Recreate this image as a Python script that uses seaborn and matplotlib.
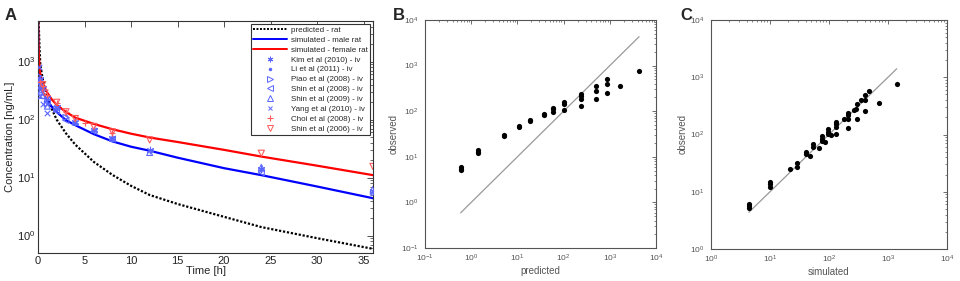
import numpy as np
import pandas as pd
import matplotlib
matplotlib.use("Agg")
import matplotlib.pyplot as plt
import seaborn as sns
from matplotlib.lines import Line2D
from matplotlib.ticker import LogLocator, NullFormatter

# ---------------- data: panel A curves ----------------
t_curve = [0, 0.05, 0.083, 0.167, 0.25, 0.5, 1, 1.5, 2, 3, 4, 6, 8, 10, 12, 15, 20, 24, 30, 36]
pred_rat = [9000, 6000, 4300, 1675, 865, 509, 238, 150, 100, 58, 37, 18.6, 11.1, 7.2, 5.0, 3.5, 2.1, 1.4, 0.9, 0.59]
sim_male = [6000, 1600, 1000, 600, 430, 300, 210, 165, 135, 98, 80, 56, 42, 34, 29, 22, 14.5, 11, 7, 4.4]
sim_female = [7000, 2200, 1400, 800, 600, 420, 290, 220, 180, 135, 108, 84, 68, 57, 49, 41, 30, 23, 16, 11]

# ---------------- data: panel A observations ----------------
kim_t = [0.083, 0.25, 0.5, 1, 2, 4, 6, 8, 12, 24, 36]
kim_c = [480, 505, 354, 237, 163, 89, 65.6, 48.4, 29.7, 13.9, 5.9]
li_t = [0.167, 0.5, 1, 2, 3, 4, 6, 8, 12, 24, 36]
li_c = [354, 275, 214, 147, 120, 83, 61, 44, 28, 13, 5.5]
piao_t = [0.083, 0.25, 0.5, 1, 2, 3]
piao_c = [560, 399, 320, 187, 150, 109]
shin08_t = [0.083, 0.25, 1, 2, 3, 6, 8, 24, 36]
shin08_c = [430, 350, 200, 140, 97, 63, 46, 12.1, 5.2]
shin09_t = [0.083, 0.25, 0.5, 1, 4, 8, 12, 24, 36]
shin09_c = [380, 300, 260, 170, 90, 47, 27, 15, 6.3]
yang_t = [0.083, 0.25, 0.5, 1]
yang_c = [795, 257, 184, 131]
choi_t = [0.25, 0.5, 1, 2, 3, 5, 8]
choi_c = [440, 380, 260, 190, 135, 87, 58]
shin06_t = [0.5, 0.75, 2, 3, 4, 6, 8, 12, 24, 36]
shin06_c = [400, 286, 198, 136, 104, 76, 61, 44.6, 26.2, 15.5]

# ---------------- data: panel B ----------------
pred_B = [0.59, 0.59, 0.59, 1.39, 1.39, 1.39, 5.04, 5.04, 11.1, 11.1, 18.6, 18.6,
          37.3, 37.3, 58.3, 58.3, 58.3, 100.7, 100.7, 100.7,
          238, 238, 238, 238, 509, 509, 509, 865, 865, 865, 1675, 4300]
obs_B = [5.9, 5.5, 5.2, 13.9, 13.0, 12.1, 29.7, 28.0, 48.4, 44.0, 65.6, 61.0,
         89, 83, 120, 109, 97, 163, 147, 107,
         237, 214, 187, 131, 354, 275, 184, 505, 399, 257, 354, 757]

# ---------------- data: panel C ----------------
sim_C = [4.38, 4.38, 4.38, 10, 10, 10, 21.6, 28.7, 28.7, 41.3, 41.3, 48.3, 54.2, 54.2,
         67.6, 77, 77, 77, 84, 96, 96, 96, 108, 133, 133, 133, 133, 177,
         209, 209, 209, 209, 261, 289, 297, 297, 351, 415, 415, 415, 472, 716, 1404]
obs_C = [6.2, 5.7, 5.1, 14.9, 13.4, 11.9, 24.8, 31.2, 27.3, 49.9, 45.4, 41.4, 67.9, 61.0,
         58.6, 95, 85, 77, 74.6, 124, 112, 102, 98, 167, 152, 136, 104, 183,
         240, 218, 183, 131, 267, 274, 340, 183, 399, 489, 399, 256, 574, 359, 760]

# ---------------- styling ----------------
sns.set_style("white")
plt.rcParams['font.family'] = ['Liberation Sans', 'DejaVu Sans']
plt.rcParams['mathtext.fontset'] = 'custom'
plt.rcParams['mathtext.rm'] = 'Liberation Sans'

BLUE = '#0000ff'
RED = '#ff0000'
MBLUE = '#5a66ff'
MRED = '#ff5a5a'

fig = plt.figure(figsize=(9.6, 2.81), dpi=100)
axA = fig.add_axes([38/960, 28/281, 335/960, 232/281])
axB = fig.add_axes([425/960, 33/281, 231/960, 228/281])
axC = fig.add_axes([711/960, 32/281, 236/960, 229/281])

# ---------------- panel A ----------------
dfc = pd.DataFrame({'t': t_curve, 'pred': pred_rat, 'male': sim_male, 'female': sim_female})
sns.lineplot(data=dfc, x='t', y='pred', ax=axA, color='black', lw=1.6, linestyle=(0, (1, 0.8)))
sns.lineplot(data=dfc, x='t', y='male', ax=axA, color=BLUE, lw=1.6)
sns.lineplot(data=dfc, x='t', y='female', ax=axA, color=RED, lw=1.6)

def obs(ax, t, c, marker, color, s, hollow=False, lw=0.8):
    sns.scatterplot(x=t, y=c, ax=ax, marker=marker, s=s, color=color, linewidth=lw, zorder=3)
    coll = ax.collections[-1]
    if hollow:
        coll.set_facecolor('none')
        coll.set_edgecolor(color)
    return coll

asterisk = (6, 2, 0)
obs(axA, kim_t, kim_c, asterisk, MBLUE, 22)
obs(axA, li_t, li_c, 'o', MBLUE, 3, lw=0)
obs(axA, piao_t, piao_c, '>', MBLUE, 18, hollow=True)
obs(axA, shin08_t, shin08_c, '<', MBLUE, 18, hollow=True)
obs(axA, shin09_t, shin09_c, '^', MBLUE, 18, hollow=True)
obs(axA, yang_t, yang_c, 'x', MBLUE, 16)
obs(axA, choi_t, choi_c, '+', MRED, 22)
obs(axA, shin06_t, shin06_c, 'v', MRED, 20, hollow=True)

axA.set_yscale('log')
axA.set_xlim(0, 36)
axA.set_ylim(0.5, 5000)
axA.set_xticks(range(0, 36, 5))
axA.set_xlabel('Time [h]', fontsize=8, labelpad=0.5)
axA.set_ylabel('Concentration [ng/mL]', fontsize=8, labelpad=1)
axA.yaxis.set_major_locator(LogLocator(base=10, numticks=10))
axA.yaxis.set_minor_locator(LogLocator(base=10, subs=np.arange(2, 10), numticks=10))
axA.yaxis.set_minor_formatter(NullFormatter())

handles = [
    Line2D([], [], color='black', lw=1.4, linestyle=(0, (1, 0.8))),
    Line2D([], [], color=BLUE, lw=1.4),
    Line2D([], [], color=RED, lw=1.4),
    Line2D([], [], color=MBLUE, marker=asterisk, ms=4, lw=0, mew=0.7),
    Line2D([], [], color=MBLUE, marker='o', ms=1.5, lw=0),
    Line2D([], [], color=MBLUE, marker='>', ms=4, lw=0, mfc='none', mew=0.7),
    Line2D([], [], color=MBLUE, marker='<', ms=4, lw=0, mfc='none', mew=0.7),
    Line2D([], [], color=MBLUE, marker='^', ms=4, lw=0, mfc='none', mew=0.7),
    Line2D([], [], color=MBLUE, marker='x', ms=3.5, lw=0, mew=0.7),
    Line2D([], [], color=MRED, marker='+', ms=4.5, lw=0, mew=0.8),
    Line2D([], [], color=MRED, marker='v', ms=4, lw=0, mfc='none', mew=0.7),
]
labels = ['predicted - rat', 'simulated - male rat', 'simulated - female rat',
          'Kim et al (2010) - iv', 'Li et al (2011) - iv', 'Piao et al (2008) - iv',
          'Shin et al (2008) - iv', 'Shin et al (2009) - iv', 'Yang et al (2010) - iv',
          'Choi et al (2008) - iv', 'Shin et al (2006) - iv']
leg = axA.legend(handles, labels, loc='upper right', fontsize=5.8, frameon=True,
                 fancybox=False, edgecolor='#333333', framealpha=1,
                 handlelength=4.2, handletextpad=0.5, labelspacing=0.28,
                 borderpad=0.3, borderaxespad=0.35)
leg.get_frame().set_linewidth(0.8)

# ---------------- panel B ----------------
sns.lineplot(x=[min(pred_B), max(pred_B)], y=[min(pred_B), max(pred_B)], ax=axB,
             color='#999999', lw=0.9)
sns.scatterplot(x=pred_B, y=obs_B, ax=axB, color='black', s=14, linewidth=0, zorder=3)
axB.set_xscale('log'); axB.set_yscale('log')
axB.set_xlim(0.1, 1e4); axB.set_ylim(0.1, 1e4)
axB.set_xlabel('predicted', fontsize=7, color='#555555', labelpad=1)
axB.set_ylabel('observed', fontsize=7, color='#555555', labelpad=2)

# ---------------- panel C ----------------
sns.lineplot(x=[min(sim_C), max(sim_C)], y=[min(sim_C), max(sim_C)], ax=axC,
             color='#999999', lw=0.9)
sns.scatterplot(x=sim_C, y=obs_C, ax=axC, color='black', s=14, linewidth=0, zorder=3)
axC.set_xscale('log'); axC.set_yscale('log')
axC.set_xlim(1, 1e4); axC.set_ylim(1, 1e4)
axC.set_xlabel('simulated', fontsize=7, color='#555555', labelpad=1)
axC.set_ylabel('observed', fontsize=7, color='#555555', labelpad=2)

for ax in (axB, axC):
    for axis in (ax.xaxis, ax.yaxis):
        axis.set_major_locator(LogLocator(base=10, numticks=10))
        axis.set_minor_locator(LogLocator(base=10, subs=np.arange(2, 10), numticks=10))
        axis.set_minor_formatter(NullFormatter())
    ax.tick_params(which='both', direction='in', top=True, right=True,
                   labelsize=6, labelcolor='#555555', color='#555555')
    ax.tick_params(axis='x', which='both', pad=3.5)
    ax.tick_params(axis='y', which='both', pad=4.5)
    ax.tick_params(which='major', length=3, width=0.6)
    ax.tick_params(which='minor', length=1.6, width=0.5)
    for sp in ax.spines.values():
        sp.set_color('#555555'); sp.set_linewidth(0.8)

axA.tick_params(which='both', direction='in', top=True, right=True,
                labelsize=8, labelcolor='#222222', color='#333333', pad=2)
axA.tick_params(which='major', length=4, width=0.6)
axA.tick_params(which='minor', length=2, width=0.5)
for sp in axA.spines.values():
    sp.set_color('#333333'); sp.set_linewidth(0.8)

fig.text(5/960, 1 - 15/281, 'A', fontsize=12, fontweight='bold', va='center', ha='left')
fig.text(393/960, 1 - 15/281, 'B', fontsize=12, fontweight='bold', va='center', ha='left')
fig.text(680/960, 1 - 15/281, 'C', fontsize=12, fontweight='bold', va='center', ha='left')

fig.savefig('out.png', dpi=100, facecolor='white')
